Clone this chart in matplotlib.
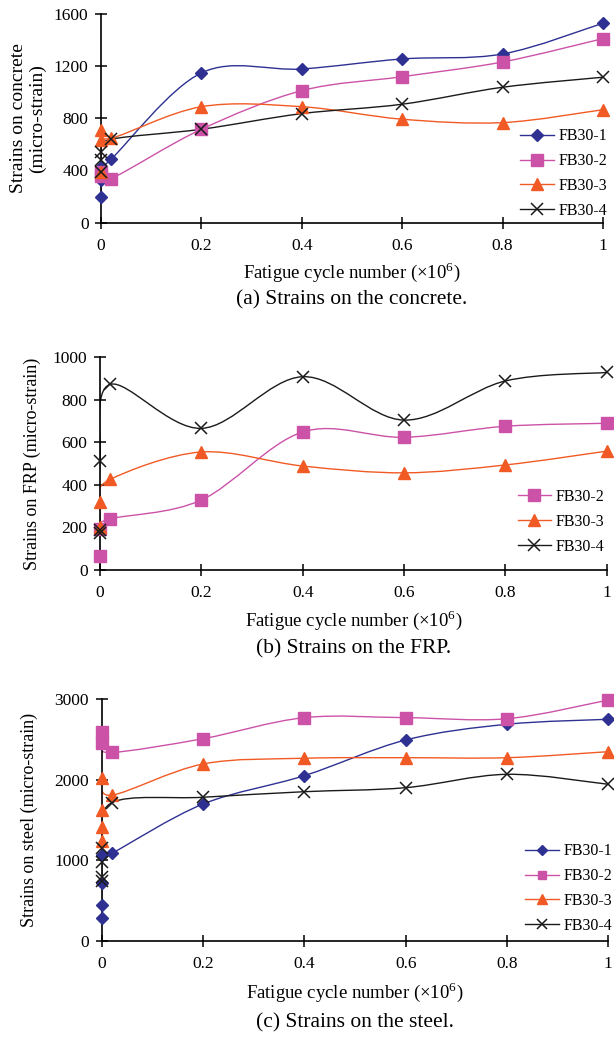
"""Fatigue strain histories: concrete, FRP and steel."""
import matplotlib
matplotlib.use("Agg")
import matplotlib.pyplot as plt
import numpy as np
from matplotlib.lines import Line2D
from matplotlib.path import Path
from matplotlib.patches import PathPatch

plt.rcParams["font.family"] = ["Liberation Serif", "DejaVu Serif"]
plt.rcParams["mathtext.fontset"] = "custom"
plt.rcParams["mathtext.rm"] = "Liberation Serif"

# ---- data (cycles in 10^6, strains in micro-strain) ----
# (a) concrete
A1_X = [0, 0, 0, 0.02, 0.2, 0.4, 0.6, 0.8, 1.0]
A1_Y = [195, 330, 430, 486, 1148, 1178, 1255, 1293, 1529]
A2_X = [0, 0, 0.02, 0.2, 0.4, 0.6, 0.8, 1.0]
A2_Y = [360, 391, 338, 716, 1012, 1119, 1232, 1411]
A3_X = [0, 0, 0, 0.02, 0.2, 0.4, 0.6, 0.8, 1.0]
A3_Y = [391, 633, 711, 647, 889, 889, 793, 767, 866]
A4_X = [0, 0, 0, 0.02, 0.2, 0.4, 0.6, 0.8, 1.0]
A4_Y = [391, 481, 544, 639, 716, 836, 908, 1038, 1115]

# (b) FRP
B2_X = [0, 0, 0.02, 0.2, 0.4, 0.6, 0.8, 1.0]
B2_Y = [67, 193, 240, 329, 649, 624, 676, 690]
B3_X = [0, 0, 0.02, 0.2, 0.4, 0.6, 0.8, 1.0]
B3_Y = [200, 321, 426, 555, 489, 457, 494, 559]
B4_X = [0, 0, 0, 0.02, 0.2, 0.4, 0.6, 0.8, 1.0]
B4_Y = [172, 188, 514, 873, 666, 909, 705, 889, 929]

# (c) steel
C1_X = [0, 0, 0, 0, 0.02, 0.2, 0.4, 0.6, 0.8, 1.0]
C1_Y = [282, 447, 716, 1067, 1089, 1700, 2052, 2495, 2690, 2752]
C2_X = [0, 0, 0.02, 0.2, 0.4, 0.6, 0.8, 1.0]
C2_Y = [2590, 2454, 2340, 2511, 2772, 2772, 2759, 2991]
C3_X = [0, 0, 0, 0, 0.02, 0.2, 0.4, 0.6, 0.8, 1.0]
C3_Y = [1240, 1420, 1620, 2025, 1810, 2197, 2268, 2275, 2275, 2350]
C4_X = [0, 0, 0, 0, 0.02, 0.2, 0.4, 0.6, 0.8, 1.0]
C4_Y = [740, 800, 980, 1150, 1717, 1784, 1853, 1903, 2069, 1945]

LABELS = ["FB30-1", "FB30-2", "FB30-3", "FB30-4"]

STYLE = {
    "FB30-1": dict(color="#2E3192", marker="D", ms=6.5, mfc="#2E3192", mec="#2E3192"),
    "FB30-2": dict(color="#CC52A8", marker="s", ms=8, mfc="#CC52A8", mec="#CC52A8"),
    "FB30-3": dict(color="#F15A24", marker="^", ms=9, mfc="#F15A24", mec="#F15A24"),
    "FB30-4": dict(color="#1a1a1a", marker="x", ms=9, mfc="none", mec="#1a1a1a", mew=1.1),
}


def smooth_line(ax, x, y, color):
    """Excel-like smoothed line: cubic bezier through the points."""
    p = np.column_stack([x, y]).astype(float)
    n = len(p)
    verts = [p[0]]
    codes = [Path.MOVETO]
    for i in range(n - 1):
        p0 = p[i - 1] if i > 0 else p[i]
        p1, p2 = p[i], p[i + 1]
        p3 = p[i + 2] if i + 2 < n else p[i + 1]
        c1 = p1 + (p2 - p0) / 6.0
        c2 = p2 - (p3 - p1) / 6.0
        verts += [c1, c2, p2]
        codes += [Path.CURVE4] * 3
    patch = PathPatch(Path(verts, codes), fill=False, edgecolor=color, lw=1.0, zorder=2)
    ax.add_patch(patch)


def panel(rect, series, ylim, yticks, ylabel, ylabel_x, ylabel_fs, caption,
          leg_xy, leg_labels, leg_scale=1.0):
    ax = fig.add_axes(rect)
    for name, x, y in series:
        st = STYLE[name]
        smooth_line(ax, x, y, st["color"])
        ax.plot(x, y, linestyle="none", marker=st["marker"], ms=st["ms"],
                mfc=st["mfc"], mec=st["mec"], mew=st.get("mew", 1.0),
                clip_on=False, zorder=3)
    ax.set_xlim(0, 1)
    ax.set_ylim(*ylim)
    ax.set_xticks([0, 0.2, 0.4, 0.6, 0.8, 1])
    ax.set_xticklabels(["0", "0.2", "0.4", "0.6", "0.8", "1"])
    ax.set_yticks(yticks)
    for s in ["top", "right"]:
        ax.spines[s].set_visible(False)
    for s in ["left", "bottom"]:
        ax.spines[s].set_linewidth(1.2)
    ax.tick_params(direction="inout", length=8, width=1.1, labelsize=12.5, pad=5)
    ax.tick_params(axis="x", pad=7)
    ax.patch.set_visible(False)

    tall = rect[3] > 0.22
    ax.text(ylabel_x, 0.5, ylabel, transform=ax.transAxes, rotation=90,
            ha="center", va="center", fontsize=ylabel_fs, linespacing=1.15)
    ax.text(0.5, -0.21 if tall else -0.235, "Fatigue cycle number (×10$^{6}$)",
            transform=ax.transAxes, ha="center", va="center", fontsize=13.5)
    ax.text(0.5, -0.338 if tall else -0.37, caption,
            transform=ax.transAxes, ha="center", va="center", fontsize=15.5)

    handles = []
    for name in leg_labels:
        st = STYLE[name]
        handles.append(Line2D([], [], color=st["color"], lw=1.0, marker=st["marker"],
                              ms=st["ms"] * leg_scale, mfc=st["mfc"], mec=st["mec"],
                              mew=st.get("mew", 1.0)))
    ax.legend(handles, leg_labels, loc="upper left", bbox_to_anchor=leg_xy,
              frameon=False, fontsize=11.5, handlelength=2.1, handletextpad=0.3,
              labelspacing=0.55, borderpad=0, borderaxespad=0)
    return ax


fig = plt.figure(figsize=(6.14, 10.4), dpi=100)

panel([0.1645, 0.7859, 0.8176, 0.2007],
      [("FB30-1", A1_X, A1_Y), ("FB30-2", A2_X, A2_Y),
       ("FB30-3", A3_X, A3_Y), ("FB30-4", A4_X, A4_Y)],
      (0, 1600), [0, 400, 800, 1200, 1600],
      "Strains on concrete\n(micro-strain)", -0.145, 14,
      "(a) Strains on the concrete.", (0.835, 0.452), LABELS)

panel([0.1629, 0.4519, 0.8252, 0.2045],
      [("FB30-2", B2_X, B2_Y), ("FB30-3", B3_X, B3_Y), ("FB30-4", B4_X, B4_Y)],
      (0, 1000), [0, 200, 400, 600, 800, 1000],
      "Strains on FRP (micro-strain)", -0.134, 13,
      "(b) Strains on the FRP.", (0.824, 0.381), LABELS[1:])

panel([0.1656, 0.0952, 0.8251, 0.2324],
      [("FB30-1", C1_X, C1_Y), ("FB30-2", C2_X, C2_Y),
       ("FB30-3", C3_X, C3_Y), ("FB30-4", C4_X, C4_Y)],
      (0, 3000), [0, 1000, 2000, 3000],
      "Strains on steel (micro-strain)", -0.142, 13,
      "(c) Strains on the steel.", (0.836, 0.404), LABELS, leg_scale=0.8)

fig.savefig("out.png", dpi=100)
